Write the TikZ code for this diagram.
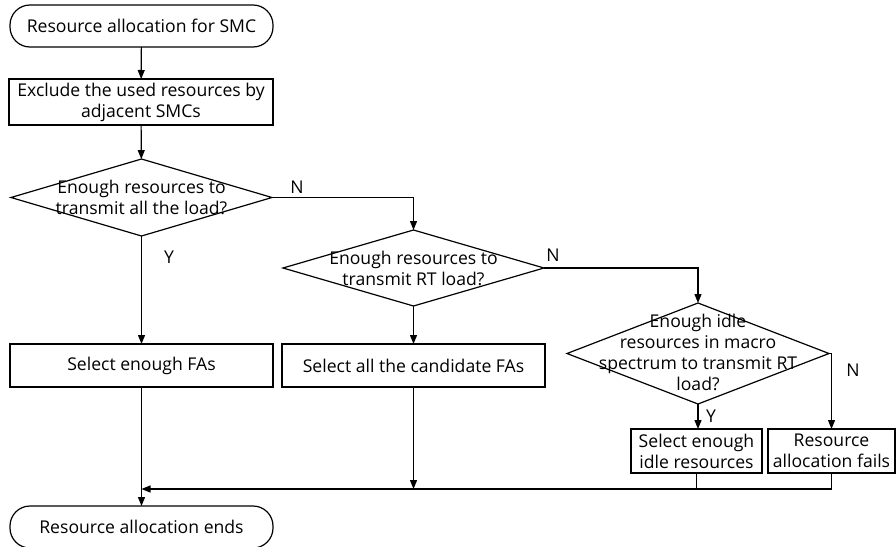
\documentclass[tikz,border=0pt]{standalone}
\usepackage{fontspec}
\setmainfont{Open Sans}
\usetikzlibrary{shapes.geometric,arrows.meta}
\begin{document}
\begin{tikzpicture}[x=1pt,y=-1pt,
  font=\fontsize{17.6}{21}\selectfont,
  line width=1.2pt,
  every node/.style={inner sep=0pt, outer sep=0pt},
  term/.style={draw, rectangle, rounded corners=20pt, minimum width=263pt, minimum height=42pt},
  proc/.style={draw, rectangle, align=center},
  dec/.style={draw, diamond, aspect=3},
  txt/.style={align=center},
  arr/.style={-{Triangle[length=9pt,width=7pt]}},
  lbl/.style={font=\fontsize{17.6}{21}\selectfont}
]
\useasboundingbox (0,0) rectangle (896,546);

\node[term] (start) at (141.5,26) {Resource allocation for SMC};
\node[proc, minimum width=264pt, minimum height=46pt] (excl) at (141,102) {Exclude the used resources by\\adjacent SMCs};

\node[dec, minimum width=261pt, minimum height=77pt] (d1) at (141.5,197.5) {};
\node[txt] (d1t) at (141.5,197.5) {Enough resources to\\transmit all the load?};

\node[dec, minimum width=261pt, minimum height=76pt] (d2) at (413.5,268) {};
\node[txt] (d2t) at (413.5,268) {Enough resources to\\transmit RT load?};

\node[dec, minimum width=262pt, minimum height=101pt] (d3) at (698,353.5) {};
\node[txt] (d3t) at (698,352) {Enough idle\\resources in macro\\spectrum to transmit RT\\load?};

\node[proc, minimum width=263pt, minimum height=43pt] (b1) at (141.5,365.5) {Select enough FAs};
\node[proc, minimum width=263pt, minimum height=43pt] (b2) at (413.5,365.5) {Select all the candidate FAs};
\node[proc, minimum width=131pt, minimum height=44pt] (b3) at (696.5,451) {Select enough\\idle resources};
\node[proc, minimum width=127pt, minimum height=44pt] (b4) at (831.5,451) {Resource\\allocation fails};

\node[term] (end) at (141.5,527) {Resource allocation ends};

\coordinate (m) at (141.5,489);

\node[lbl] (n1) at (297,187) {N};
\node[lbl] (y1) at (169,257) {Y};
\node[lbl] (n2) at (553,255) {N};
\node[lbl] (n3) at (853,370) {N};
\node[lbl] (y3) at (711,416) {Y};

\draw[arr] (start) -- (excl);
\draw[arr] (excl) -- (d1);
\draw[arr] (d1.east) -| (d2.north);
\draw[arr] (d1.south) -- (b1.north);
\draw[arr] (d2.south) -- (b2.north);
\draw[arr] (d2.east) -| (d3.north);
\draw[arr] (d3.south) -- (d3.south |- b3.north);
\draw[arr] (d3.east) -| (b4.north);
\draw[arr] (b1.south) -- (end.north);
\draw[arr] (b2.south) -- (b2.south |- m);
\draw (b3.south) -- (b3.south |- m);
\draw[arr] (b4.south) |- (m);
\end{tikzpicture}
\end{document}
